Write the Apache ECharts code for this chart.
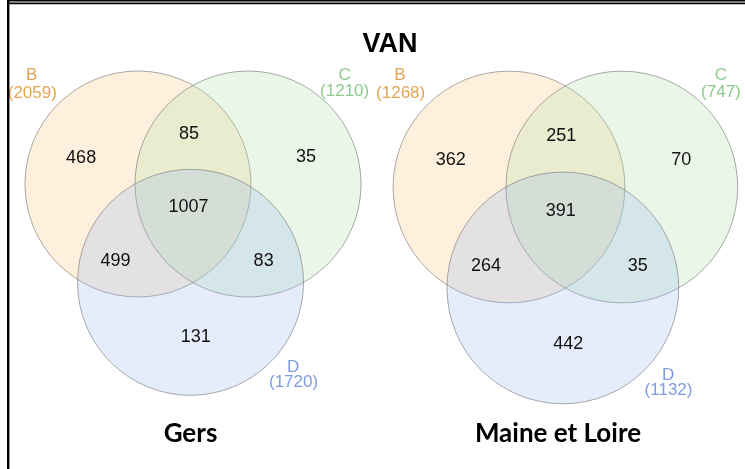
<!DOCTYPE html>
<html>
<head>
<meta charset="utf-8">
<script src="https://cdn.jsdelivr.net/npm/echarts@6/dist/echarts.min.js"></script>
<style>
html,body{margin:0;padding:0;background:#fff;}
#chart{width:745px;height:469px;}
</style>
</head>
<body>
<div id="chart"></div>
<script>
// ---- data ----
const mainTitle = 'VAN';
const panelTitles = ['Gers', 'Maine et Loire'];
const setNames = ['B', 'C', 'D'];
const regionKeys = ['B', 'BC', 'C', 'BCD', 'BD', 'CD', 'D'];
const gersCounts = [468, 85, 35, 1007, 499, 83, 131];
const maineCounts = [362, 251, 70, 391, 264, 35, 442];
const gersTotals = [2059, 1210, 1720];
const maineTotals = [1268, 747, 1132];

// ---- layout (unit = circle radius) ----
const circleLayout = { B: [-0.487, 0], C: [0.487, 0], D: [-0.022, -0.87] };
const circleRadius = 1;
const regionLayout = {
  B: [-0.99, 0.23], BC: [-0.035, 0.44], C: [1.0, 0.235],
  BCD: [-0.04, -0.205], BD: [-0.685, -0.685], CD: [0.625, -0.685], D: [0.024, -1.355]
};
const setNameLayout = { B: [-1.428, 0.96], C: [1.342, 0.966], D: [0.887, -1.625] };
const setTotalLayout = { B: [-1.422, 0.805], C: [1.342, 0.816], D: [0.89, -1.755] };

// ---- styles ----
const fills = { B: 'rgba(251,195,119,0.25)', C: 'rgba(171,223,163,0.25)', D: 'rgba(151,179,243,0.25)' };
const labelColors = { B: '#E3A552', C: '#8DCB8D', D: '#7E9BE2' };
const strokeColor = 'rgba(120,120,120,0.62)';

const panels = [
  { counts: gersCounts, totals: gersTotals, cx: 193, cy: 184, s: 113 },
  { counts: maineCounts, totals: maineTotals, cx: 565.6, cy: 187, s: 116 }
];
const xRange = [-1.55, 1.55];
const yRange = [-2.1, 1.3];

const grids = [], xAxes = [], yAxes = [], series = [];
panels.forEach((p, i) => {
  grids.push({
    left: p.cx + xRange[0] * p.s,
    top: p.cy - yRange[1] * p.s,
    width: (xRange[1] - xRange[0]) * p.s,
    height: (yRange[1] - yRange[0]) * p.s,
    containLabel: false
  });
  xAxes.push({ type: 'value', gridIndex: i, min: xRange[0], max: xRange[1], show: false });
  yAxes.push({ type: 'value', gridIndex: i, min: yRange[0], max: yRange[1], show: false });

  // circles
  series.push({
    type: 'custom', xAxisIndex: i, yAxisIndex: i, silent: true,
    data: setNames.map(n => [circleLayout[n][0], circleLayout[n][1], circleRadius, n]),
    renderItem: function (params, api) {
      const c = api.coord([api.value(0), api.value(1)]);
      const r = api.size([api.value(2), 0])[0];
      const n = setNames[params.dataIndex];
      return { type: 'circle', shape: { cx: c[0], cy: c[1], r: r },
        style: { fill: fills[n], stroke: strokeColor, lineWidth: 1 } };
    },
    z: 1
  });
  // region counts
  series.push({
    type: 'custom', xAxisIndex: i, yAxisIndex: i, silent: true,
    data: regionKeys.map((k, j) => [regionLayout[k][0], regionLayout[k][1], p.counts[j]]),
    renderItem: function (params, api) {
      const c = api.coord([api.value(0), api.value(1)]);
      return { type: 'text', x: c[0], y: c[1],
        style: { text: String(api.value(2)), align: 'center', verticalAlign: 'middle',
          font: '18px "Liberation Sans", Arial, sans-serif', fill: '#111' } };
    },
    z: 3
  });
  // set labels
  series.push({
    type: 'custom', xAxisIndex: i, yAxisIndex: i, silent: true,
    data: setNames.map((n, j) => [setNameLayout[n][0], setNameLayout[n][1], setTotalLayout[n][0], setTotalLayout[n][1], p.totals[j]]),
    renderItem: function (params, api) {
      const n = setNames[params.dataIndex];
      const a = api.coord([api.value(0), api.value(1)]);
      const b = api.coord([api.value(2), api.value(3)]);
      const st = { align: 'center', verticalAlign: 'middle', font: '17px "Liberation Sans", Arial, sans-serif', fill: labelColors[n] };
      return { type: 'group', children: [
        { type: 'text', x: a[0], y: a[1], style: Object.assign({ text: n }, st) },
        { type: 'text', x: b[0], y: b[1], style: Object.assign({ text: '(' + api.value(4) + ')' }, st) }
      ] };
    },
    z: 3
  });
});

const chart = echarts.init(document.getElementById('chart'), null, { renderer: 'canvas' });
chart.setOption({
  animation: false,
  backgroundColor: '#fff',
  grid: grids,
  xAxis: xAxes,
  yAxis: yAxes,
  series: series,
  graphic: [
    { type: 'rect', shape: { x: 7, y: 0, width: 738, height: 1.5 }, style: { fill: '#000' }, z: 10 },
    { type: 'rect', shape: { x: 7, y: 2.5, width: 738, height: 1.8 }, style: { fill: '#000' }, z: 10 },
    { type: 'rect', shape: { x: 7, y: 0, width: 2.4, height: 469 }, style: { fill: '#000' }, z: 10 },
    { type: 'text', x: 390, y: 44.5, style: { text: mainTitle, align: 'center', verticalAlign: 'middle',
      font: 'bold 27px "Liberation Sans", Arial, sans-serif', fill: '#000' }, z: 10 },
    { type: 'text', x: 190.5, y: 434, style: { text: panelTitles[0], align: 'center', verticalAlign: 'middle',
      font: 'bold 26px Lato, "Open Sans", sans-serif', fill: '#000' }, z: 10 },
    { type: 'text', x: 558, y: 434, style: { text: panelTitles[1], align: 'center', verticalAlign: 'middle',
      font: 'bold 26px Lato, "Open Sans", sans-serif', fill: '#000' }, z: 10 }
  ]
});
</script>
</body>
</html>
